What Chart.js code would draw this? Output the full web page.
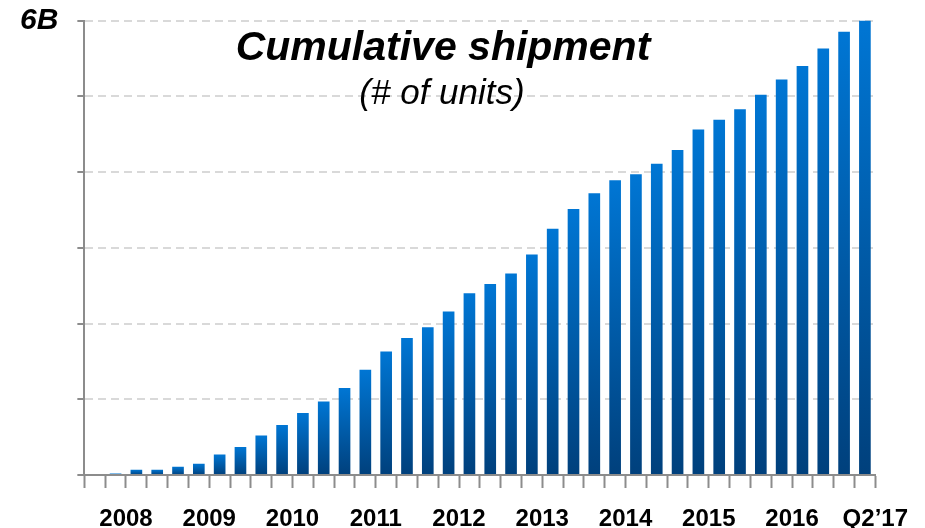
<!DOCTYPE html>
<html>
<head>
<meta charset="utf-8">
<script src="https://cdn.jsdelivr.net/npm/chart.js@4/dist/chart.umd.min.js"></script>
<style>
  html, body { margin: 0; padding: 0; background: #ffffff; }
  #wrap { width: 925px; height: 528px; position: relative; }
</style>
</head>
<body>
<div id="wrap"><canvas id="c"></canvas></div>
<script>
// Quarterly categories (Q1 2008 .. Q2 2017)
const quarters = [
  "Q1'08","Q2'08","Q3'08","Q4'08",
  "Q1'09","Q2'09","Q3'09","Q4'09",
  "Q1'10","Q2'10","Q3'10","Q4'10",
  "Q1'11","Q2'11","Q3'11","Q4'11",
  "Q1'12","Q2'12","Q3'12","Q4'12",
  "Q1'13","Q2'13","Q3'13","Q4'13",
  "Q1'14","Q2'14","Q3'14","Q4'14",
  "Q1'15","Q2'15","Q3'15","Q4'15",
  "Q1'16","Q2'16","Q3'16","Q4'16",
  "Q1'17","Q2'17"
];
// Cumulative shipments, billions of units
const cumulative = [
  0, 0.02, 0.07, 0.07,
  0.11, 0.15, 0.27, 0.37,
  0.52, 0.66, 0.82, 0.97,
  1.15, 1.39, 1.63, 1.81,
  1.95, 2.16, 2.40, 2.52,
  2.66, 2.91, 3.25, 3.51,
  3.72, 3.89, 3.97, 4.11,
  4.29, 4.56, 4.69, 4.83,
  5.02, 5.22, 5.40, 5.63,
  5.85, 6.00
];
// Axis tick labels
const yearLabels = ["2008","2009","2010","2011","2012","2013","2014","2015","2016"];
const lastLabel = "Q2\u201917";
const yTopLabel = "6B";
const titleText = "Cumulative shipment";
const subtitleText = "(# of units)";

const FONT = "'Liberation Sans', Arial, Helvetica, sans-serif";

const points = cumulative.map((v, i) => ({ x: i + 0.5, y: v }));

function barGradient(context) {
  const chart = context.chart;
  const { ctx, chartArea, scales } = chart;
  if (!chartArea || !scales.y || context.type !== 'data') return '#0070c8';
  const v = context.raw ? context.raw.y : 0;
  const top = scales.y.getPixelForValue(v);
  const bottom = scales.y.getPixelForValue(0);
  if (!isFinite(top) || !isFinite(bottom) || bottom - top < 0.5) return '#00508f';
  const g = ctx.createLinearGradient(0, top, 0, bottom);
  g.addColorStop(0, 'rgb(0,118,212)');
  g.addColorStop(1, 'rgb(0,64,124)');
  return g;
}

const titlePlugin = {
  id: 'overlayTitle',
  afterDraw(chart) {
    const ctx = chart.ctx;
    ctx.save();
    ctx.fillStyle = '#000000';
    ctx.textAlign = 'center';
    ctx.textBaseline = 'alphabetic';
    ctx.font = 'italic bold 41px ' + FONT;
    ctx.fillText(titleText, 443, 60);
    ctx.font = 'italic 35px ' + FONT;
    ctx.fillText(subtitleText, 442, 104);
    ctx.restore();
  }
};

new Chart(document.getElementById('c'), {
  type: 'bar',
  data: {
    labels: quarters,
    datasets: [{
      label: 'Cumulative shipment',
      data: points,
      backgroundColor: barGradient,
      borderWidth: 0,
      categoryPercentage: 1.0,
      barPercentage: 0.56
    }]
  },
  options: {
    responsive: true,
    maintainAspectRatio: false,
    animation: false,
    layout: { padding: { left: 1, right: 49, top: 0, bottom: -22.8 } },
    plugins: {
      legend: { display: false },
      title: { display: false },
      tooltip: { enabled: false }
    },
    scales: {
      x: {
        type: 'linear',
        min: 0,
        max: quarters.length,
        offset: false,
        grid: {
          offset: false,
          drawOnChartArea: false,
          drawTicks: true,
          tickLength: 13,
          tickColor: '#8c8c8c',
          tickWidth: 2,
          color: '#8c8c8c'
        },
        border: { display: true, color: '#8c8c8c', width: 2 },
        ticks: {
          stepSize: 1,
          autoSkip: false,
          maxRotation: 0,
          minRotation: 0,
          padding: 17,
          color: '#000000',
          font: { family: FONT, size: 24, weight: 'bold', lineHeight: 1.2 },
          callback: function (value) {
            const v = Math.round(value);
            if (v === quarters.length) return lastLabel;
            if (v >= 2 && (v - 2) % 4 === 0) {
              const idx = (v - 2) / 4;
              if (idx < yearLabels.length) return yearLabels[idx];
            }
            return '';
          }
        }
      },
      y: {
        type: 'linear',
        min: 0,
        max: 6,
        grid: {
          color: (c) => (c.tick && c.tick.value === 0) ? 'rgba(0,0,0,0)' : '#d9d9d9',
          lineWidth: 2,
          drawTicks: true,
          tickLength: 7,
          tickColor: '#8c8c8c',
          tickWidth: 2,
          tickBorderDash: []
        },
        border: { display: true, color: '#8c8c8c', width: 2, dash: [8, 5] },
        ticks: {
          stepSize: 1,
          padding: 19,
          color: '#000000',
          font: { family: FONT, size: 30, weight: 'bold', style: 'italic', lineHeight: 0.1 },
          callback: (v) => (v === 6 ? yTopLabel : '')
        }
      }
    }
  },
  plugins: [titlePlugin]
});
</script>
</body>
</html>
